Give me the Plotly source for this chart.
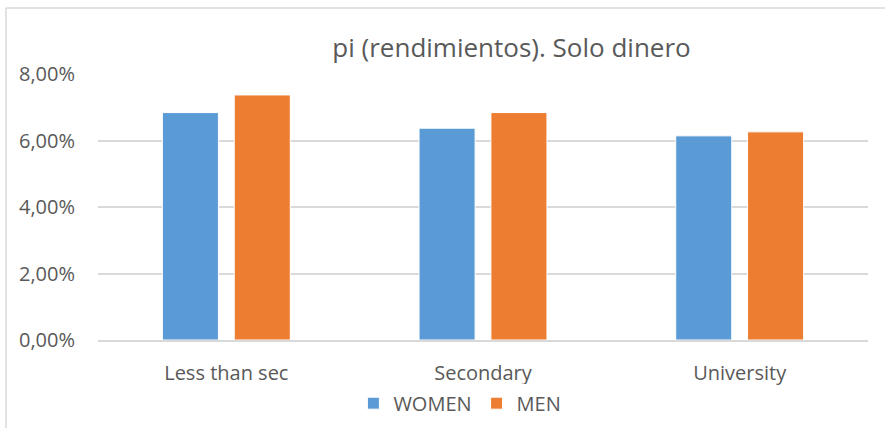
import plotly.graph_objects as go

categories = ["Less than sec", "Secondary", "University"]
women = [0.0684, 0.0637, 0.0614]
men = [0.0737, 0.0684, 0.0626]
y_ticks = [0, 0.02, 0.04, 0.06, 0.08]

font = "Open Sans, Carlito, Calibri, sans-serif"

fig = go.Figure()
fig.add_trace(go.Bar(x=categories, y=women, name="WOMEN", marker_color="#5B9BD5",
                     marker_line=dict(color="#FFFFFF", width=1)))
fig.add_trace(go.Bar(x=categories, y=men, name="MEN", marker_color="#ED7D31",
                     marker_line=dict(color="#FFFFFF", width=1)))

fig.update_layout(
    width=885, height=428,
    margin=dict(l=98, r=17, t=74, b=88),
    paper_bgcolor="white", plot_bgcolor="white",
    separators=",.",
    font=dict(family=font, size=20, color="#595959"),
    title=dict(text="pi (rendimientos). Solo dinero", x=0.578, xanchor="center",
               y=0.888, yanchor="middle", font=dict(size=26, color="#595959")),
    barmode="group", bargap=0.44, bargroupgap=0.22,
    showlegend=True,
    legend=dict(orientation="h", x=0.47, xanchor="center", yref="container",
                y=0.058, yanchor="middle", font=dict(size=20), itemwidth=30,
                traceorder="normal"),
    xaxis=dict(showgrid=False, showline=True, linecolor="#D9D9D9", linewidth=1.5,
               ticks="", ticklen=0, tickfont=dict(size=20), ticklabelstandoff=14,
               automargin=False),
    yaxis=dict(range=[0, 0.08], tickvals=y_ticks, tickformat=".2%",
               showgrid=True, gridcolor="#D9D9D9", gridwidth=1.5,
               zeroline=False, ticks="", ticklabelstandoff=22, tickfont=dict(size=20),
               automargin=False),
)
# chart area border (left and top edges visible)
fig.add_shape(type="line", xref="paper", yref="paper", x0=-0.1195, x1=-0.1195, y0=-0.4, y1=1.248,
              line=dict(color="#D9D9D9", width=1.5))
fig.add_shape(type="line", xref="paper", yref="paper", x0=-0.1195, x1=1.1, y0=1.248, y1=1.248,
              line=dict(color="#D9D9D9", width=1.5))

fig.write_html("out.html", config={"displayModeBar": False},
               post_script="document.body.style.margin='0';")
